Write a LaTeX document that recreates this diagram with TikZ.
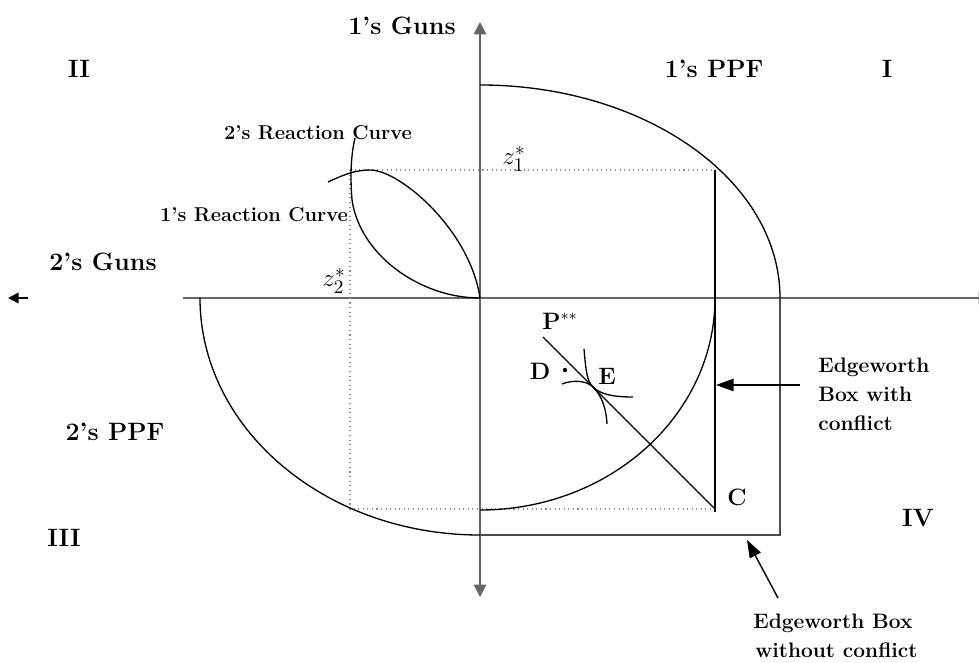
\documentclass[tikz,border=0pt]{standalone}
\usepackage{fontspec}
\usetikzlibrary{arrows.meta}
\begin{document}
\begin{tikzpicture}[x=0.02cm,y=-0.02cm,
  axis/.style={draw=black!60, line width=1.1pt},
  curve/.style={draw=black, line width=0.75pt},
  guide/.style={draw=black!45, dotted, line width=0.6pt},
  boxline/.style={draw=black, line width=0.8pt},
  lbl/.style={font=\fontsize{14.3}{16}\selectfont\bfseries, inner sep=0pt},
  small/.style={font=\fontsize{11.4}{13}\selectfont\bfseries, inner sep=0pt},
  note/.style={font=\fontsize{11.9}{14}\selectfont\bfseries, inner sep=0pt, anchor=base west},
  ltr/.style={font=\fontsize{13.5}{15}\selectfont\bfseries, inner sep=0pt},
  zl/.style={font=\fontsize{15}{17}\selectfont, inner sep=0pt},
  axtip/.style={-{Triangle[length=7pt,width=7pt]}},
  ptr/.style={-{Triangle[length=10pt,width=7pt]}}
]
\useasboundingbox (0,0) rectangle (979,662);
\clip (0,0) rectangle (979,662);

% key points
\coordinate (O) at (480,298);
\coordinate (ytop) at (480,22);
\coordinate (ybot) at (480,597);
\coordinate (xl) at (183,298);
\coordinate (xr) at (991,298);
\coordinate (la1) at (28,298);
\coordinate (la2) at (8,298);
\coordinate (NE) at (350,170);
\coordinate (B1) at (715,170);
\coordinate (B2) at (715,512);
\coordinate (G1) at (350,509);
\coordinate (G2) at (715,509);
\coordinate (R1) at (780,298);
\coordinate (R2) at (780,535);
\coordinate (R3) at (480,535);
\coordinate (Pss) at (543,337);
\coordinate (Cc) at (714,508);
\coordinate (Ept) at (593,387);

% axes
\draw[axis,{Triangle[length=7pt,width=7pt]}-{Triangle[length=7pt,width=7pt]}] (ybot) -- (ytop);
\draw[axis,axtip] (xl) -- (xr);
\draw[draw=black,line width=0.9pt,-{Triangle[length=6pt,width=6pt]}] (la1) -- (la2);

% dotted guides
\draw[guide] (NE) -- (B1);
\draw[guide] (NE) -- (G1) -- (G2);

% PPFs
\draw[curve] (480,85) .. controls (645.7,85) and (780,180.4) .. (R1);
\draw[curve] (200,298) .. controls (200,428.9) and (325.4,535) .. (R3);
% inner frontier
\draw[curve] (715,298) .. controls (715,415.1) and (609.8,510) .. (480,510);

% Edgeworth boxes
\draw[boxline] (B1) -- (B2);
\draw[draw=black!70, line width=0.9pt] (R1) -- (R2) -- (R3);

% reaction curves
\draw[curve] (328,182) .. controls (343,175) and (355,170) .. (370,170)
             .. controls (400,170) and (470,230) .. (O);
\draw[curve] (355,138) .. controls (351,155) and (350,175) .. (352,200)
             .. controls (360,255) and (420,298) .. (O);

% price line and indifference curves
\draw[curve] (Pss) -- (Cc);
\draw[curve] (584,349) .. controls (586,372) and (587,381) .. (Ept)
             .. controls (600,394) and (612,397) .. (633,397);
\draw[curve] (562,384) .. controls (572,380) and (586,380) .. (Ept)
             .. controls (600,394) and (606,405) .. (607,424);
\fill (565,370) circle[radius=2.2];

% pointers
\draw[boxline,ptr] (800,385) -- (716,385);
\draw[boxline,ptr] (778,598) -- (747,540);

% labels
\node[lbl] (g1) at (402,26) {1’s Guns};
\node[lbl] (q2) at (79,69) {II};
\node[lbl] (ppf1) at (714,69) {1’s PPF};
\node[lbl] (q1) at (887,69) {I};
\node[small] (rc2) at (318,133) {2’s Reaction Curve};
\node[small] (rc1) at (254,215) {1’s Reaction Curve};
\node[lbl] (g2) at (103,262) {2’s Guns};
\node[lbl] (ppf2) at (115,432) {2’s PPF};
\node[lbl] (q3) at (64,538) {III};
\node[lbl] (q4) at (918,518) {IV};
\node[zl] (z1) at (514,159) {$z_1^*$};
\node[zl] (z2) at (334,281) {$z_2^*$};
\node[ltr] (P) at (560,321) {P$^{**}$};
\node[ltr] (D) at (540,371) {D};
\node[ltr] (E) at (607,376) {E};
\node[ltr] (C) at (737,497) {C};
\node[note] (n1) at (818,372) {Edgeworth};
\node[note] (n2) at (818,401) {Box with};
\node[note] (n3) at (818,430) {conflict};
\node[note] (n4) at (753,628) {Edgeworth Box};
\node[note] (n5) at (755,657) {without conflict};
\end{tikzpicture}
\end{document}
